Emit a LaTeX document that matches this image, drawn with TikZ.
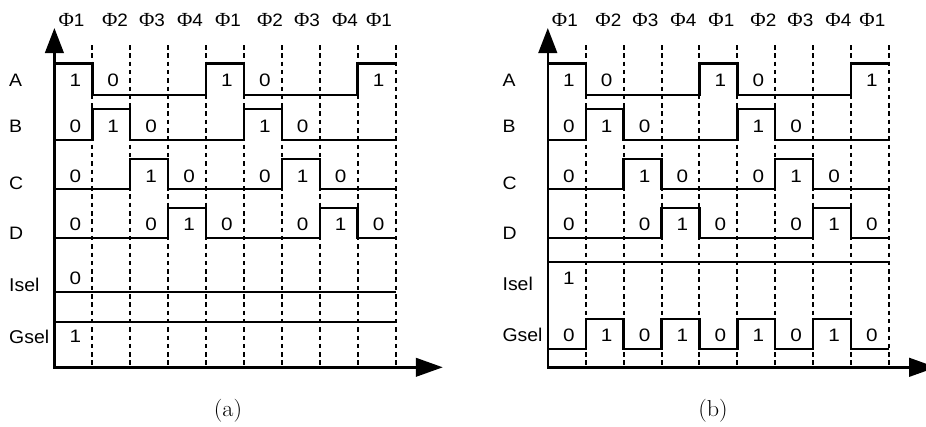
\documentclass[tikz,border=0pt]{standalone}
\usepackage{fontspec}
\newfontfamily\ars{Liberation Sans}
\newfontfamily\grk{Liberation Serif}
\usetikzlibrary{arrows.meta}
\def\s{37.9}
\tikzset{
  axisline/.style={line width=2.6pt, {Triangle[length=25pt,width=18.5pt]}-{Triangle[length=27pt,width=18.5pt]}},
  wave/.style={line width=2.4pt, line join=miter},
  vgrid/.style={line width=2pt, dash pattern=on 4.5pt off 3.8pt},
  val/.style={font=\ars\fontsize{18}{18}\selectfont, inner sep=0, anchor=base, xscale=1.15},
  rowlab/.style={font=\ars\fontsize{18}{18}\selectfont, inner sep=0, anchor=base west, xscale=1.08},
  rowlabb/.style={font=\ars\fontsize{18.5}{18.5}\selectfont, inner sep=0, anchor=base west, xscale=1.05},
  phase/.style={inner sep=0, anchor=base, xscale=1.05},
  capt/.style={font=\fontsize{23}{23}\selectfont, inner sep=0, anchor=base, xscale=1.05},
}
\newcommand\ph[1]{{\grk\fontsize{20}{20}\selectfont Φ}{\ars\fontsize{18}{18}\selectfont #1}}
\newcommand\vals[3]{\foreach \k/\d in {#3} {\node[val] (#1\k) at ({(\k-0.5)*\s+2},#2) {\d};}}
\newcommand\commonpart{%
  \foreach \k in {1,...,9} {\draw[vgrid] (\k*\s,45) -- (\k*\s,367.3);}
  \coordinate (o) at (0,367.3);
  \coordinate (ytip) at (0,28);
  \coordinate (xtip) at (388.4,367.3);
  \draw[axisline] (ytip) -- (o) -- (xtip);
  \foreach \k/\xx/\n in {1/17.1/1,2/60.6/2,3/97.6/3,4/135.6/4,5/173.6/1,6/215.6/2,7/252.6/3,8/290.6/4,9/324.6/1}
    {\node[phase] (h\k) at (\xx,26.5) {\ph{\n}};}
  % A
  \draw[wave] (0,63.5) -- (\s,63.5) -- (\s,94.7) -- (4*\s,94.7) -- (4*\s,63.5) -- (5*\s,63.5) -- (5*\s,94.7) -- (8*\s,94.7) -- (8*\s,63.5) -- (9*\s,63.5);
  % B
  \draw[wave] (0,139.7) -- (\s,139.7) -- (\s,108.7) -- (2*\s,108.7) -- (2*\s,139.7) -- (5*\s,139.7) -- (5*\s,108.7) -- (6*\s,108.7) -- (6*\s,139.7) -- (9*\s,139.7);
  % C
  \draw[wave] (0,189.2) -- (2*\s,189.2) -- (2*\s,159.2) -- (3*\s,159.2) -- (3*\s,189.2) -- (6*\s,189.2) -- (6*\s,159.2) -- (7*\s,159.2) -- (7*\s,189.2) -- (9*\s,189.2);
  % D
  \draw[wave] (0,238) -- (3*\s,238) -- (3*\s,208) -- (4*\s,208) -- (4*\s,238) -- (7*\s,238) -- (7*\s,208) -- (8*\s,208) -- (8*\s,238) -- (9*\s,238);
  \vals{vA}{86}{1/1,2/0,5/1,6/0,9/1}
  \vals{vB}{132}{1/0,2/1,3/0,6/1,7/0}
  \vals{vC}{182}{1/0,3/1,4/0,6/0,7/1,8/0}
  \vals{vD}{230}{1/0,3/0,4/1,5/0,7/0,8/1,9/0}
  \node[rowlab] (lA) at (-45.4,86) {A};
  \node[rowlab] (lB) at (-45.4,132) {B};
  \node[rowlab] (lC) at (-45.4,189) {C};
  \node[rowlab] (lD) at (-45.4,239) {D};
}
\begin{document}
\begin{tikzpicture}[x=1pt,y=-1pt]
\useasboundingbox (0,0) rectangle (926,426);
\begin{scope}[xshift=54.4pt, name prefix=a-]
  \commonpart
  \draw[wave] (0,291.7) -- (9*\s,291.7);
  \draw[wave] (0,321.7) -- (9*\s,321.7);
  \vals{vI}{284.5}{1/0}
  \vals{vG}{342.5}{1/1}
  \node[rowlabb] (lI) at (-45.4,291.5) {Isel};
  \node[rowlabb] (lG) at (-45.4,343) {Gsel};
\end{scope}
\begin{scope}[xshift=547.8pt, name prefix=b-]
  \commonpart
  \draw[wave] (0,262) -- (9*\s,262);
  \draw[wave] (0,349) -- (\s,349) -- (\s,319) -- (2*\s,319) -- (2*\s,349) -- (3*\s,349) -- (3*\s,319) -- (4*\s,319) -- (4*\s,349) -- (5*\s,349) -- (5*\s,319) -- (6*\s,319) -- (6*\s,349) -- (7*\s,349) -- (7*\s,319) -- (8*\s,319) -- (8*\s,349) -- (9*\s,349);
  \vals{vI}{284}{1/1}
  \vals{vG}{341.5}{1/0,2/1,3/0,4/1,5/0,6/1,7/0,8/1,9/0}
  \node[rowlabb] (lI) at (-45.4,290.7) {Isel};
  \node[rowlabb] (lG) at (-45.4,341.7) {Gsel};
\end{scope}
\node[capt] (capa) at (228,416) {(a)};
\node[capt] (capb) at (713,416) {(b)};
\end{tikzpicture}
\end{document}
